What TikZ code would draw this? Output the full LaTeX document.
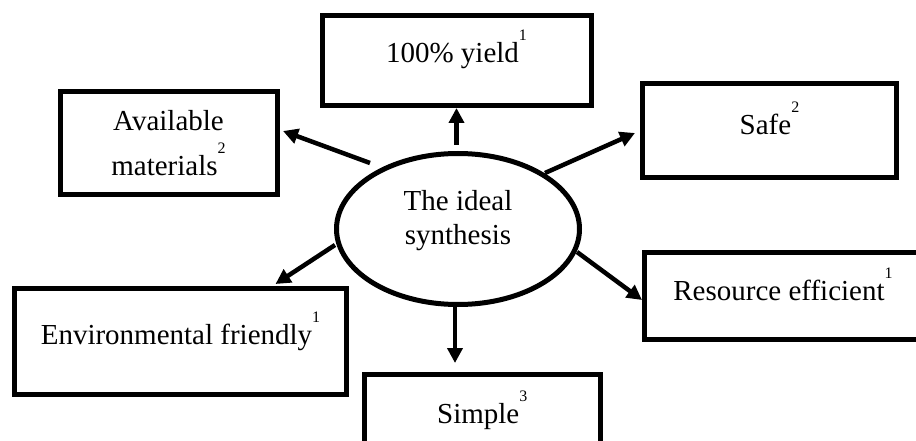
\documentclass[tikz,border=0pt]{standalone}
\usepackage{fontspec}
\setmainfont{Liberation Serif}
\usetikzlibrary{arrows.meta,shapes.geometric,calc}
\newcommand{\supnum}[1]{\raisebox{22pt}{\fontsize{16}{16}\selectfont #1}}
\begin{document}
\begin{tikzpicture}[x=1pt,y=-1pt,
  box/.style={draw, line width=5pt, inner sep=0pt, font=\fontsize{29}{35}\selectfont},
  ideal/.style={ellipse, draw, line width=5pt, inner sep=0pt, font=\fontsize{29}{35}\selectfont},
  arr/.style={line width=4.5pt, -{Triangle[length=15pt,width=15pt]}}]
\useasboundingbox (0,0) rectangle (916,441);
\fill[white] (0,0) rectangle (916,441);
\clip (0,0) rectangle (916,441);

\node[ideal, minimum width=243pt, minimum height=151pt, text height=0pt, text depth=38pt] (ell) at (458,229)
  {\begin{tabular}[t]{@{}c@{}}The ideal\\ synthesis\end{tabular}};

\node[box, minimum width=269pt, minimum height=90pt, text height=10pt, text depth=5pt] (yield) at (456.5,60.5)
  {100\% yield\supnum{1}};
\node[box, minimum width=217pt, minimum height=102pt, text height=0pt, text depth=24pt] (avail) at (168.5,143)
  {\begin{tabular}[t]{@{}c@{}}Available\\[1.5pt] materials\supnum{2}\end{tabular}};
\node[box, minimum width=254pt, minimum height=94pt, text height=10pt, text depth=2pt] (safe) at (769.5,131)
  {Safe\supnum{2}};
\node[box, minimum width=278pt, minimum height=87pt, text height=12pt, text depth=3pt] (res) at (783,295.5)
  {Resource efficient\supnum{1}};
\node[box, minimum width=332pt, minimum height=106pt, text height=10pt, text depth=4pt] (env) at (180.5,341)
  {Environmental friendly\supnum{1}};
\node[box, minimum width=236.5pt, minimum height=69pt, text height=30pt, text depth=1pt] (simple) at (482.25,408.5)
  {Simple\supnum{3}};

\draw[arr] ($(yield.south |- ell.north)+(0,-6)$) -- (yield.south);
\draw[arr] ($(ell.center)+(-88,-66)$) -- ($(avail.east)+(3.5,-12)$);
\draw[arr] ($(ell.center)+(87,-56)$) -- ($(safe.west)+(-5,2)$);
\draw[arr] ($(ell.center)+(119,23)$) -- ($(res.west)+(0.5,4.5)$);
\draw[arr] ($(ell.south)+(-3,0)$) -- ($(ell.south |- simple.north)+(-3,-8.5)$);
\draw[arr] ($(ell.center)+(-123,16)$) -- ($(env.north east)+(-73.5,-1.5)$);
\end{tikzpicture}
\end{document}
